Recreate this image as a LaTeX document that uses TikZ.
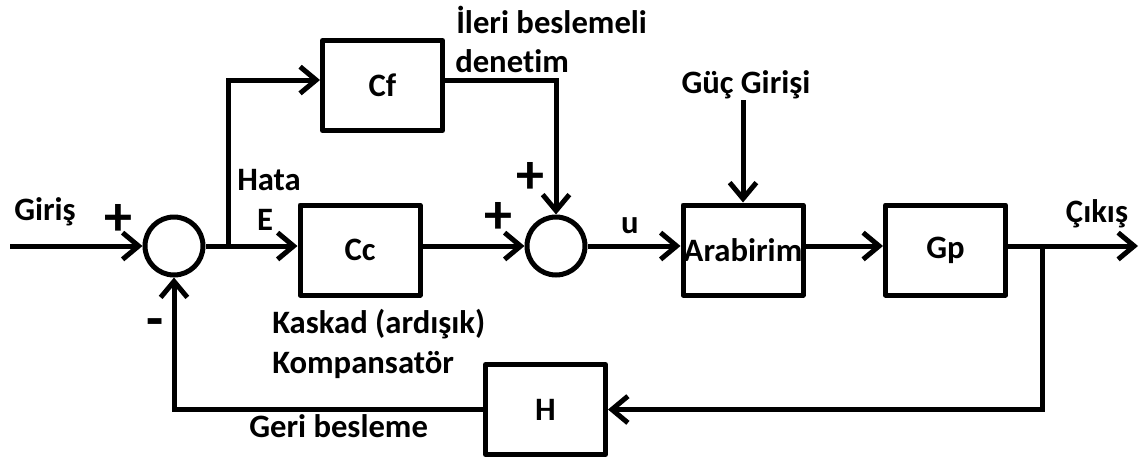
\documentclass[tikz,border=0pt]{standalone}
\usepackage{fontspec}
\setmainfont{Carlito}[Ligatures=NoCommon]
\usetikzlibrary{arrows.meta}
\begin{document}
\begin{tikzpicture}[x=0.75pt,y=-0.75pt,
  wire/.style={line width=3.75pt},
  arr/.style={wire,-{Straight Barb[length=12pt,width=20pt]}},
  blk/.style={draw,line width=3.75pt,line join=round,minimum width=90pt,minimum height=67.5pt,inner sep=0pt,
    font=\fontsize{24.5}{29}\selectfont\bfseries},
  sum/.style={draw,circle,line width=3.75pt,minimum size=43.5pt,inner sep=0pt},
  lbl/.style={inner sep=0pt,font=\fontsize{24.5}{30}\selectfont\bfseries},
  sgn/.style={inner sep=0pt,font=\fontsize{42}{42}\selectfont\bfseries}]
\useasboundingbox (0,0) rectangle (1146,461);

% summing junctions and blocks
\node[sum] (s1) at (174,246) {};
\node[sum] (s2) at (556,246) {};
\node[blk] (cf) at (382.5,85.5) {Cf};
\node[blk] (cc) at (360,250) {Cc};
\node[blk] (ar) at (743,250) {Arabirim};
\node[blk] (gp) at (945.5,250) {Gp};
\node[blk] (h)  at (545.5,409.5) {H};

% free ends and branch points
\coordinate (in)  at (10,246);
\coordinate (e)   at (228,246);
\coordinate (pw)  at (743,100);
\coordinate (out) at (1138,246);
\coordinate (fb)  at (1042,246);

% forward path
\draw[arr] (in) -- (s1);
\draw[wire] (s1) -- (e);
\draw[arr] (e) -- (e -| cc.west);
\draw[arr] (cc.east |- s2) -- (s2);
\draw[arr] (s2) -- (s2 -| ar.west);
\draw[arr] (ar.east |- s2) -- (s2 -| gp.west);
\draw[arr] (gp.east |- s2) -- (out);

% feedforward branch
\draw[arr] (e) |- ([yshift=4.1pt]cf.west);
\draw[arr] ([yshift=4.1pt]cf.east) -| (s2);

% power input
\draw[arr] (pw) -- (ar);

% feedback loop
\draw[arr] (fb) |- (h);
\draw[arr] (h) -| (s1);

% labels
\node[lbl,anchor=base west] (giris) at (14,220) {Giriş};
\node[lbl,anchor=base west] (hata) at (237,190) {Hata};
\node[lbl,anchor=base] (elbl) at (265,230) {E};
\node[lbl,anchor=base west] (ileri) at (456,33) {İleri beslemeli};
\node[lbl,anchor=base west] (denetim) at (455,72) {denetim};
\node[lbl,anchor=base] (guc) at (746,93) {Güç Girişi};
\node[lbl,anchor=base] (ulbl) at (630,233) {u};
\node[lbl,anchor=base] (cikis) at (1097,222) {Çıkış};
\node[lbl,anchor=base west] (kaskad) at (272,333) {Kaskad (ardışık)};
\node[lbl,anchor=base west] (komp) at (272,373) {Kompansatör};
\node[lbl,anchor=base west] (geri) at (249,437) {Geri besleme};

% signs at the junctions
\node[sgn,anchor=base] (p1) at (118,235) {+};
\node[sgn,anchor=base] (p2) at (498,233) {+};
\node[sgn,anchor=base] (p3) at (530,193) {+};
\node[sgn,anchor=base] (m1) at (155,337) {-};
\end{tikzpicture}
\end{document}
